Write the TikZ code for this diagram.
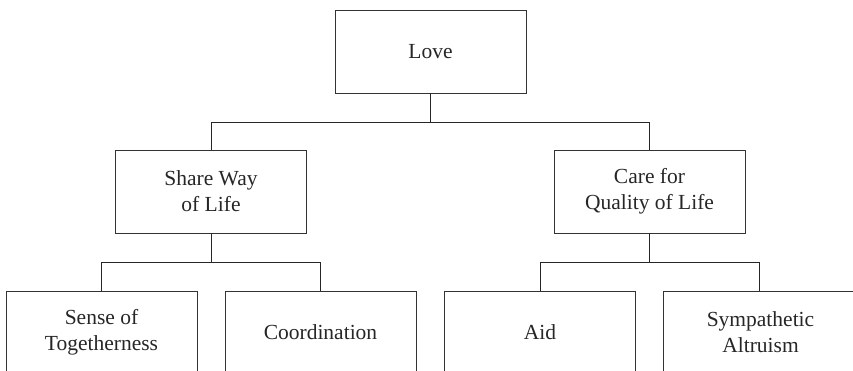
\documentclass[tikz,border=0pt]{standalone}
\usepackage{fontspec}
\setmainfont{Liberation Serif}
\usepackage{tikz}

\begin{document}
\begin{tikzpicture}[x=1pt, y=-1pt,
    box/.style={draw=black!80, line width=0.9pt, minimum width=191pt, minimum height=83pt,
        inner sep=0pt, align=center, font=\fontsize{21.5}{26}\selectfont, text=black!85},
    link/.style={draw=black!85, line width=0.8pt}]
\clip (0,0) rectangle (853,371);
% Define the top node
\node[box] (love) at (430.5, 51.5) {Love};
% Define the middle nodes
\node[box] (share) at (211, 191.5) {Share Way\\of Life};
\node[box] (care) at (649.5, 191.5) {Care for\\Quality of Life};
% Define the bottom nodes
\node[box] (sense) at (101.5, 332.5) {Sense of\\Togetherness};
\node[box] (coord) at (320.5, 332.5) {Coordination};
\node[box] (aid) at (540, 332.5) {Aid};
\node[box, minimum width=195pt] (symp) at (760.5, 332.5) {Sympathetic\\Altruism};
% Add the connectors
\foreach \c in {share,care}
    \draw[link] (love.south) -- ++(0,29) -| (\c.north);
\foreach \c in {sense,coord}
    \draw[link] (share.south) -- ++(0,29) -| (\c.north);
\draw[link] (care.south) -- ++(0,29) -| (aid.north);
\draw[link] (care.south) -- ++(0,29) -| ([xshift=-1.5pt]symp.north);
\end{tikzpicture}
\end{document}
